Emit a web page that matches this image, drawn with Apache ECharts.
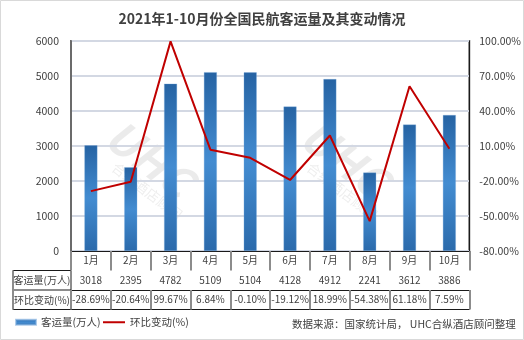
<!DOCTYPE html>
<html><head><meta charset="utf-8">
<script src="https://cdn.jsdelivr.net/npm/echarts@6/dist/echarts.min.js"></script>
<style>html,body{margin:0;padding:0;background:#fff}#c{width:524px;height:340px}</style>
</head><body><div id="c"></div>
<script>
const months = ['1月','2月','3月','4月','5月','6月','7月','8月','9月','10月'];
const passengers = [3018, 2395, 4782, 5109, 5104, 4128, 4912, 2241, 3612, 3886];
const changePct = [-28.69, -20.64, 99.67, 6.84, -0.10, -19.12, 18.99, -54.38, 61.18, 7.59];
const leftTicks = [0, 1000, 2000, 3000, 4000, 5000, 6000];
const rightTicks = [-80, -50, -20, 10, 40, 70, 100];
const rowLabels = ['客运量(万人)', '环比变动(%)'];
const seriesNames = ['客运量(万人)', '环比变动(%)'];
const RIGHT_BASE = rightTicks[0];

const font = '"Noto Sans CJK SC", "Noto Sans", sans-serif';
const txt = '#404040';
const fs = 10;
const chart = echarts.init(document.getElementById('c'));

const G = {left: 71, right: 50, top: 41, bottom: 89};
const tableLeft = 13, rowH = 19.5;
const y0 = 340 - G.bottom; // 251

function tableAxis(offset, fmt, showTick) {
  return {
    type: 'category', data: months, position: 'bottom', offset: offset,
    axisLine: {show: true, lineStyle: {color: '#1a1a1a', width: 1}},
    axisTick: {show: showTick, length: 19.5, interval: 0, lineStyle: {color: '#8c8c8c', width: 2}},
    axisLabel: {show: !!fmt, interval: 0, formatter: fmt, color: txt, fontSize: fs, fontFamily: font, margin: 4.5},
    splitLine: {show: false}
  };
}

chart.setOption({
  animation: false,
  textStyle: {fontFamily: font},
  title: {
    text: '2021年1-10月份全国民航客运量及其变动情况', left: 'center', top: 7,
    textStyle: {fontSize: 14, fontWeight: 'bold', color: txt, fontFamily: font}
  },
  grid: {left: G.left, right: G.right, top: G.top, bottom: G.bottom, show: true, borderColor: '#6b6b6b', borderWidth: 2, containLabel: false},
  legend: [
    {
      left: 15, top: 317, itemWidth: 20, itemHeight: 5, padding: 0,
      textStyle: {color: txt, fontSize: 10.5, fontFamily: font},
      data: [{name: seriesNames[0], icon: 'rect'}]
    },
    {
      left: 103, top: 317, itemWidth: 22, itemHeight: 2, padding: 0,
      textStyle: {color: txt, fontSize: 10.5, fontFamily: font},
      data: [{name: seriesNames[1], icon: 'rect', itemStyle: {color: '#c00000'}}]
    }
  ],
  xAxis: [
    tableAxis(0, (v, i) => months[i], true),
    tableAxis(19.5, (v, i) => String(passengers[i]), true),
    tableAxis(39, (v, i) => changePct[i].toFixed(2) + '%', true),
    tableAxis(58.5, null, false)
  ],
  yAxis: [
    {
      type: 'value', min: leftTicks[0], max: leftTicks[leftTicks.length - 1], interval: 1000,
      axisLine: {show: true, lineStyle: {color: '#6b6b6b', width: 2}},
      axisTick: {show: false},
      axisLabel: {color: txt, fontSize: 10.5, margin: 12, fontFamily: font, formatter: v => String(v)},
      splitLine: {show: true, lineStyle: {color: '#d3d8e3', width: 2}}
    },
    {
      type: 'value', min: 0, max: rightTicks[rightTicks.length - 1] - RIGHT_BASE, interval: 30,
      position: 'right',
      axisLine: {show: true, lineStyle: {color: '#1a1a1a', width: 1}},
      axisTick: {show: false},
      axisLabel: {color: txt, fontSize: 10.5, margin: 10, fontFamily: font,
        formatter: v => (v + RIGHT_BASE).toFixed(2) + '%'},
      splitLine: {show: false}
    }
  ],
  series: [
    {
      name: seriesNames[0], type: 'bar', data: passengers, barWidth: 13, xAxisIndex: 0, yAxisIndex: 0, z: 2,
      itemStyle: {
        color: new echarts.graphic.LinearGradient(0, 0, 0, 1, [
          {offset: 0, color: '#2663a3'},
          {offset: 0.5, color: '#438cd1'},
          {offset: 1, color: '#2b6aab'}
        ]),
        borderColor: 'rgba(120,170,220,0.6)', borderWidth: 0.5
      }
    },
    {
      name: seriesNames[1], type: 'line', data: changePct.map(p => p - RIGHT_BASE), xAxisIndex: 0, yAxisIndex: 1,
      symbol: 'none', z: 3,
      lineStyle: {color: '#c00000', width: 2}, itemStyle: {color: '#c00000'}
    }
  ],
  graphic: [
    {type: 'rect', silent: true, z: -10, shape: {x: 0.5, y: 0.5, width: 523, height: 339}, style: {fill: 'none', stroke: '#d9d9d9', lineWidth: 1}},
    {type: 'text', silent: true, z: 0, x: 125, y: 112, rotation: -0.65,
      style: {text: 'UHC', fill: 'rgba(0,0,0,0.08)', font: 'italic bold 44px ' + font}},
    {type: 'text', silent: true, z: 0, x: 118, y: 160, rotation: -0.65,
      style: {text: '合纵酒店顾问', fill: 'rgba(0,0,0,0.07)', font: '14px ' + font}},
    {type: 'text', silent: true, z: 0, x: 320, y: 112, rotation: -0.65,
      style: {text: 'UHC', fill: 'rgba(0,0,0,0.08)', font: 'italic bold 44px ' + font}},
    {type: 'text', silent: true, z: 0, x: 313, y: 160, rotation: -0.65,
      style: {text: '合纵酒店顾问', fill: 'rgba(0,0,0,0.07)', font: '14px ' + font}},
    {type: 'rect', silent: true, shape: {x: tableLeft, y: y0 + rowH, width: G.left - tableLeft, height: rowH * 2},
      style: {fill: 'none', stroke: '#1a1a1a', lineWidth: 1}},
    {type: 'line', silent: true, shape: {x1: tableLeft, y1: y0 + rowH * 2, x2: G.left, y2: y0 + rowH * 2},
      style: {stroke: '#1a1a1a', lineWidth: 1}},
    {type: 'line', silent: true, shape: {x1: tableLeft, y1: y0 + rowH, x2: tableLeft, y2: y0 + rowH * 3},
      style: {stroke: '#8c8c8c', lineWidth: 2}},
    {type: 'text', silent: true, x: (tableLeft + G.left) / 2, y: y0 + rowH * 1.5,
      style: {text: rowLabels[0], fill: txt, font: fs + 'px ' + font, align: 'center', verticalAlign: 'middle'}},
    {type: 'text', silent: true, x: (tableLeft + G.left) / 2, y: y0 + rowH * 2.5,
      style: {text: rowLabels[1], fill: txt, font: fs + 'px ' + font, align: 'center', verticalAlign: 'middle'}},
    {type: 'text', silent: true, x: 292, y: 324,
      style: {text: '数据来源：国家统计局， UHC合纵酒店顾问整理', fill: txt, font: '10.5px ' + font, verticalAlign: 'middle'}}
  ]
});
</script></body></html>
